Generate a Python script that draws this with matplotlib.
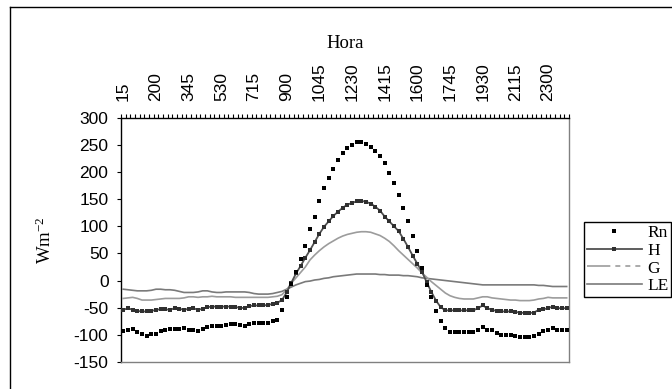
import matplotlib
matplotlib.use('Agg')
import matplotlib.pyplot as plt
from matplotlib.lines import Line2D
import numpy as np

hora = [15, 30, 45, 100, 115, 130, 145, 200, 215, 230, 245, 300,
        315, 330, 345, 400, 415, 430, 445, 500, 515, 530, 545, 600,
        615, 630, 645, 700, 715, 730, 745, 800, 815, 830, 845, 900,
        915, 930, 945, 1000, 1015, 1030, 1045, 1100, 1115, 1130, 1145, 1200,
        1215, 1230, 1245, 1300, 1315, 1330, 1345, 1400, 1415, 1430, 1445, 1500,
        1515, 1530, 1545, 1600, 1615, 1630, 1645, 1700, 1715, 1730, 1745, 1800,
        1815, 1830, 1845, 1900, 1915, 1930, 1945, 2000, 2015, 2030, 2045, 2100,
        2115, 2130, 2145, 2200, 2215, 2230, 2245, 2300, 2315, 2330, 2345, 2400]

rn = [-93, -92, -90, -95, -98, -103, -99, -99, -93, -91,
      -90, -90, -90, -88, -91, -91, -93, -89, -85, -83,
      -84, -84, -82, -81, -81, -82, -84, -81, -78, -78,
      -78, -78, -75, -73, -54, -30, -6, 16, 39, 64,
      95, 118, 146, 170, 189, 206, 222, 235, 244, 250,
      255, 255, 252, 247, 238, 229, 216, 198, 180, 158,
      133, 109, 82, 54, 23, -9, -31, -57, -75, -88,
      -94, -95, -95, -95, -94, -95, -91, -86, -91, -92,
      -96, -101, -101, -101, -103, -104, -104, -104, -103, -98,
      -93, -91, -87, -92, -92, -92]

h = [-54, -51, -54, -56, -57, -57, -56, -54, -53, -53,
     -54, -51, -52, -54, -52, -51, -54, -52, -49, -48,
     -48, -48, -48, -48, -49, -50, -51, -47, -46, -46,
     -46, -45, -43, -41, -36, -22, -4, 13, 27, 42,
     56, 71, 86, 99, 109, 119, 127, 134, 140, 143,
     146, 147, 145, 142, 136, 129, 118, 109, 100, 91,
     77, 62, 46, 31, 16, -3, -21, -37, -49, -55,
     -55, -55, -55, -55, -55, -55, -51, -46, -51, -54,
     -56, -57, -57, -57, -58, -59, -60, -60, -59, -54,
     -53, -51, -48, -51, -51, -51]

g = [-33, -32, -31, -33, -36, -36, -36, -35, -34, -33,
     -33, -33, -33, -32, -30, -30, -31, -30, -30, -29,
     -30, -30, -30, -30, -31, -31, -31, -31, -31, -31,
     -31, -31, -30, -29, -26, -17, -5, 5, 15, 25,
     38, 47, 55, 62, 68, 73, 78, 82, 85, 87,
     89, 90, 90, 89, 86, 83, 78, 72, 64, 55,
     47, 39, 31, 23, 14, 6, -2, -9, -16, -23,
     -28, -31, -33, -34, -34, -34, -32, -30, -30, -32,
     -33, -34, -35, -36, -36, -37, -37, -37, -36, -34,
     -33, -31, -32, -32, -32, -32]

le = [-16, -17, -18, -19, -19, -19, -18, -16, -16, -17,
      -17, -18, -20, -22, -22, -22, -21, -19, -19, -21,
      -22, -22, -21, -21, -21, -21, -21, -22, -24, -25,
      -25, -25, -24, -22, -20, -16, -12, -8, -5, -2,
      -1, 1, 2, 4, 5, 7, 8, 9, 10, 11,
      12, 12, 12, 12, 12, 11, 11, 10, 10, 10,
      9, 9, 8, 7, 5, 4, 3, 2, 1, 0,
      -1, -2, -3, -4, -5, -6, -7, -8, -8, -8,
      -8, -8, -8, -8, -8, -8, -8, -8, -8, -9,
      -9, -10, -11, -11, -11, -11]

series_names = ['Rn', 'H', 'G', 'LE']
yticks = [-150, -100, -50, 0, 50, 100, 150, 200, 250, 300]

plt.rcParams['font.family'] = ['Liberation Sans', 'DejaVu Sans']
plt.rcParams['mathtext.default'] = 'regular'
SERIF = ['Liberation Serif', 'DejaVu Serif']

W, HH = 672, 389
fig = plt.figure(figsize=(W / 100, HH / 100), dpi=100)
fig.patch.set_facecolor('white')

left, right, top, bottom = 121, 569, 117.8, 361.9
ax = fig.add_axes([left / W, 1 - bottom / HH, (right - left) / W, (bottom - top) / HH])

x = np.arange(len(hora))
c_le, c_g, c_h = '#7a7a7a', '#9c9c9c', '#505050'
rn_style = dict(ls='none', marker='s', ms=2.3, mew=0, color='black')
h_style = dict(color=c_h, lw=1.3, marker='s', ms=2.5, mew=0, mfc='#303030')
ax.plot(x, le, color=c_le, lw=1.2, zorder=2)
ax.plot(x, g, color=c_g, lw=1.2, zorder=2)
ax.plot(x, h, zorder=3, **h_style)
ax.plot(x, rn, zorder=4, **rn_style)

ax.set_xlim(-0.5, len(hora) - 0.5)
ax.set_ylim(yticks[0], yticks[-1])
ax.set_yticks(yticks)
ax.set_yticklabels([str(v) for v in yticks])

ax.xaxis.tick_top()
ax.set_xticks(x[::7])
ax.set_xticklabels([str(v) for v in hora[::7]], rotation=90)
ax.set_xticks(np.arange(-0.5, len(hora)), minor=True)
ax.tick_params(axis='x', which='major', length=0, pad=12, labelsize=12.5,
               top=True, bottom=False, labeltop=True, labelbottom=False)
ax.tick_params(axis='x', which='minor', length=3, width=0.8, top=True, bottom=False,
               direction='out', color='black')
ax.tick_params(axis='y', length=3, width=0.8, labelsize=12.5, pad=6, direction='out')

ax.spines['left'].set_color('black')
ax.spines['top'].set_color('black')
ax.spines['right'].set_color('#808080')
ax.spines['bottom'].set_color('#808080')
for s in ax.spines.values():
    s.set_linewidth(1.0)

fig.text(345 / W, 1 - 43 / HH, 'Hora', ha='center', va='center',
         fontsize=13.5, family=SERIF)
fig.text(45 / W, 1 - 240 / HH, r'Wm$^{-2}$', ha='center', va='center',
         rotation=90, fontsize=13.5, family=SERIF)

handles = [
    Line2D([], [], **rn_style),
    Line2D([], [], **h_style),
    Line2D([], [], color=c_g, lw=1.2, ls=(0, (14, 3, 3, 3, 3, 3, 3, 3))),
    Line2D([], [], color=c_le, lw=1.2),
]
leg = fig.legend(handles, series_names, loc='upper left',
                 bbox_to_anchor=(584 / W, 1 - 222 / HH), bbox_transform=fig.transFigure,
                 frameon=True, fancybox=False, edgecolor='black', framealpha=1,
                 borderpad=0.15, labelspacing=0.1, handlelength=3.2, handletextpad=0.3,
                 borderaxespad=0, numpoints=1, prop={'family': SERIF, 'size': 12.5})
leg.get_frame().set_linewidth(1.0)

# chart-area border (top and left edges visible)
fig.add_artist(Line2D([10 / W, 1], [1 - 7 / HH, 1 - 7 / HH], transform=fig.transFigure,
                      color='black', lw=1.0))
fig.add_artist(Line2D([10 / W, 10 / W], [0, 1 - 7 / HH], transform=fig.transFigure,
                      color='black', lw=1.0))

fig.savefig('out.png', dpi=100)
